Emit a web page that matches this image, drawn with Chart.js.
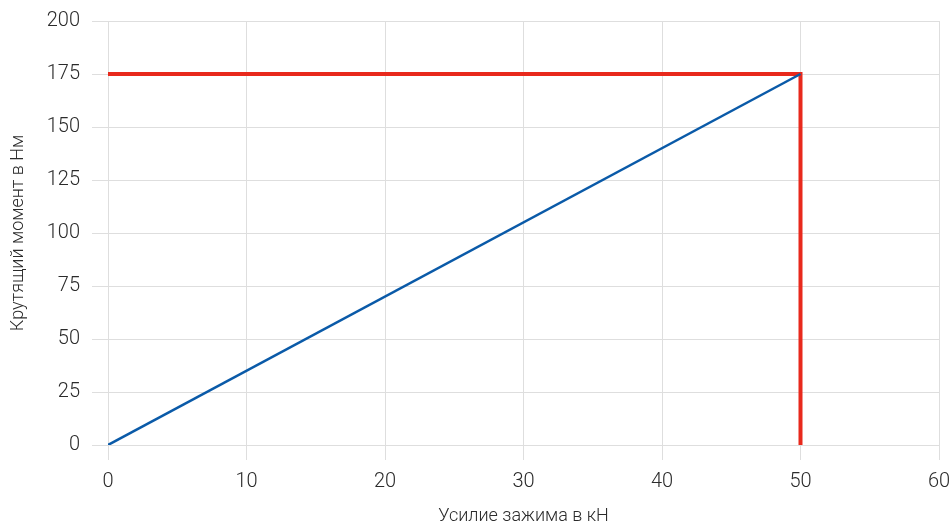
<!DOCTYPE html>
<html>
<head>
<meta charset="utf-8">
<script src="https://cdn.jsdelivr.net/npm/chart.js@4"></script>
<style>
	html, body { margin: 0; padding: 0; background: #fff; }
	#wrap { width: 952px; height: 527px; }
</style>
</head>
<body>
<div id="wrap"><canvas id="torqueChart" width="952" height="527"></canvas></div>
<script>
// Clamping force (kN) vs torque (Nm)
var forceX = [0, 50];
var torqueY = [0, 175];

// limit lines: horizontal at 175 Nm, vertical at 50 kN
var limitX = [0, 50, 50];
var limitY = [175, 175, 0];

var xTitle = "Усилие зажима в кН";
var yTitle = "Крутящий момент в Нм";

function toPoints(xs, ys){
	var pts = [];
	for (var i = 0; i < xs.length; i++) {
		pts.push({x: xs[i], y: ys[i]});
	};
	return pts;
};

var fontFamily = "'Roboto', sans-serif";
var gridColor = "#dedede";
var textColor = "#2b2b2b";

var ctx = document.getElementById("torqueChart");
var myChart = new Chart(ctx, {
	type: "scatter",
	data: {
		datasets: [
			{
				data: toPoints(forceX, torqueY),
				showLine: true,
				borderColor: "#0a5aa8",
				borderWidth: 2.5,
				pointRadius: 0,
				order: 1
			},
			{
				data: toPoints(limitX, limitY),
				showLine: true,
				borderColor: "#e8291c",
				borderWidth: 4,
				pointRadius: 0,
				borderJoinStyle: "miter",
				order: 2
			}
		]
	},
	options: {
		responsive: false,
		animation: false,
		layout: { padding: { top: 21, right: 13, left: 0, bottom: 0 } },
		plugins: { legend: { display: false }, tooltip: { enabled: false } },
		scales: {
			x: {
				type: "linear",
				min: 0,
				max: 60,
				ticks: { stepSize: 10, color: textColor, font: { family: fontFamily, size: 20, weight: 300 }, padding: 10 },
				grid: { color: gridColor, lineWidth: 1, tickLength: 15 },
				border: { color: gridColor },
				title: { display: true, text: xTitle, color: textColor, font: { family: fontFamily, size: 18, weight: 300 }, padding: { top: 8, bottom: 0 } },
				afterFit: function(scale){
					scale.height = 82;
					scale.paddingRight = 0;
					scale.paddingLeft = 0;
				}
			},
			y: {
				type: "linear",
				min: 0,
				max: 200,
				ticks: { stepSize: 25, color: textColor, font: { family: fontFamily, size: 20, weight: 300 }, padding: 12 },
				grid: { color: gridColor, lineWidth: 1, tickLength: 16 },
				border: { color: gridColor },
				title: { display: true, text: yTitle, color: textColor, font: { family: fontFamily, size: 18, weight: 300 }, padding: { top: 8, bottom: 8 } },
				afterFit: function(scale){
					scale.width = 108;
					scale.paddingTop = 0;
					scale.paddingBottom = 0;
				}
			}
		}
	}
});
</script>
</body>
</html>
